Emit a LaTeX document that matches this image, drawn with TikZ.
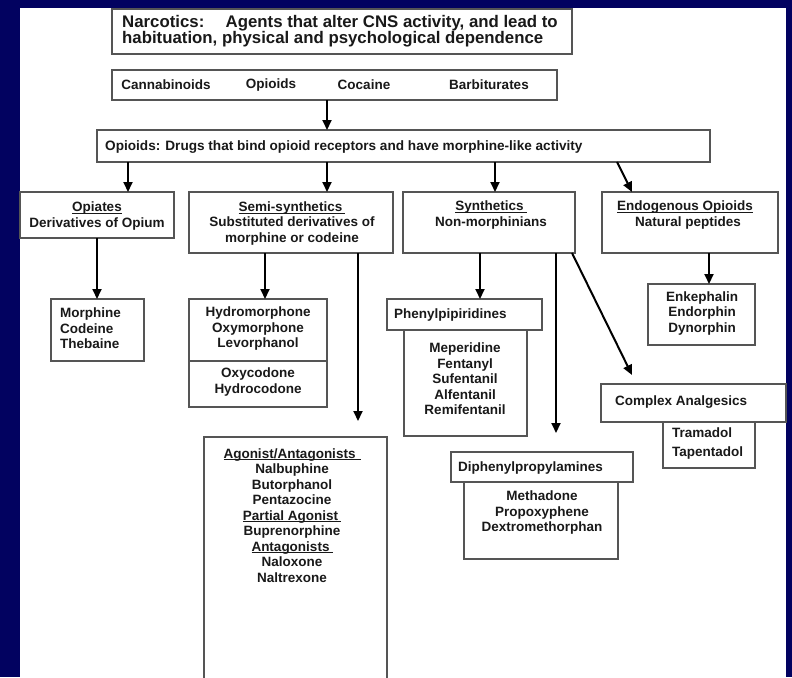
\documentclass[tikz,border=0pt]{standalone}
\usepackage{fontspec}
\setmainfont{Liberation Sans}
\usetikzlibrary{arrows.meta}
\definecolor{navy}{RGB}{2,2,96}
\definecolor{ink}{RGB}{25,25,25}
\definecolor{edge}{RGB}{85,85,85}
\newcommand\bx[5]{\node[box,anchor=north west,minimum width={(#4-#2)*1pt},minimum height={(#5-#3)*1pt}] (#1) at (#2,#3) {};}
\newcommand\myul[2][0pt]{\begingroup\setbox0\hbox{#2\hspace{#1}}\rlap{\rule[-2pt]{\wd0}{0.9pt}}\box0\endgroup}
\begin{document}
\begin{tikzpicture}[x=1pt,y=-1pt,
  box/.style={draw=edge,line width=1.3pt,fill=white,inner sep=0pt,outer sep=0pt},
  txt/.style={text=ink,font=\fontsize{13.5}{15.5}\selectfont\bfseries,inner sep=0pt,align=center},
  ttl/.style={text=ink,font=\fontsize{16.8}{16.5}\selectfont\bfseries,inner sep=0pt,align=left},
  arr/.style={draw=black,line width=2pt,-{Triangle[length=10pt,width=9pt]}}]
\fill[navy] (0,0) rectangle (792,677);
\fill[white] (20,8) rectangle (786,677);
\useasboundingbox (0,0) rectangle (792,677);
\clip (0,0) rectangle (792,677);

% level 0/1
\bx{title}{112}{9}{572}{54}
\node[ttl,anchor=west] (ttitle) at (122,31) {Narcotics:\hspace{0.9em} Agents that alter CNS activity, and lead to\\habituation, physical and psychological dependence};
\bx{cats}{112}{70}{557}{100}
\node[txt] (tcan) at (166,85) {Cannabinoids};
\node[txt] (topi) at (271,85) {Opioids};
\node[txt] (tcoc) at (364,85) {Cocaine};
\node[txt] (tbar) at (489,85) {Barbiturates};
\bx{opioids}{97}{130}{710}{162}
\node[txt,anchor=west,font=\fontsize{13.6}{15.5}\selectfont\bfseries] (topioids) at (105,147) {Opioids: Drugs that bind opioid receptors and have morphine-like activity};

% level 3
\bx{opiates}{20}{192}{174}{238}
\node[txt] (topiates) at (97,216) {\myul{Opiates}\\Derivatives of Opium};
\bx{semi}{189}{192}{393}{253}
\node[txt] (tsemi) at (292,223.5) {\myul[3pt]{Semi-synthetics}\\Substituted derivatives of\\morphine or codeine};
\bx{synth}{403}{192}{575}{253}
\node[txt] (tsynth) at (491,215) {\myul[3pt]{Synthetics}\\Non-morphinians};
\bx{endo}{602}{192}{778}{253}
\node[txt] (tendo) at (685,215) {\myul{Endogenous Opioids}\\\hspace{6pt}Natural peptides};

% level 4
\bx{morph}{51}{299}{144}{361}
\node[txt,align=left,anchor=west] (tmorph) at (60,328.5) {Morphine\\Codeine\\Thebaine};
\bx{hydro}{189}{299}{327}{407}
\draw[edge,line width=1.3pt] (hydro.west |- 0,361) -- (hydro.east |- 0,361);
\node[txt] (thydro) at (258,329) {Hydromorphone\\Oxymorphone\\Levorphanol};
\node[txt] (toxy) at (258,382) {Oxycodone\\Hydrocodone};
\bx{meper}{404}{330}{527}{436}
\bx{phenyl}{387}{299}{542}{330}
\node[txt,anchor=west] (tphenyl) at (394,315) {Phenylpipiridines};
\node[txt] (tmeper) at (465,379) {Meperidine\\Fentanyl\\Sufentanil\\Alfentanil\\Remifentanil};
\bx{enk}{648}{284}{755}{345}
\node[txt] (tenk) at (702,313.5) {Enkephalin\\Endorphin\\Dynorphin};
\bx{tram}{663}{421}{755}{468}
\bx{complex}{601}{384}{786}{422}
\node[txt,anchor=west] (tcomplex) at (615,402.5) {Complex Analgesics};
\node[txt,align=left,anchor=west,font=\fontsize{13.5}{18.5}\selectfont\bfseries] (ttram) at (672,443.5) {Tramadol\\Tapentadol};
\bx{meth}{464}{482}{618}{559}
\bx{diph}{451}{452}{633}{482}
\node[txt,anchor=west] (tdiph) at (458,468) {Diphenylpropylamines};
\node[txt] (tmeth) at (542,513) {Methadone\\Propoxyphene\\Dextromethorphan};
\bx{agon}{204}{437}{387}{700}
\node[txt] (tagon) at (292,515.5) {\myul[5pt]{Agonist/Antagonists}\\Nalbuphine\\Butorphanol\\Pentazocine\\\myul[3pt]{Partial Agonist}\\Buprenorphine\\\myul[3pt]{Antagonists}\\Naloxone\\Naltrexone};

% connectors
\draw[arr] (cats.south -| 327,0) -- (opioids.north -| 327,0);
\draw[arr] (opioids.south -| 128,0) -- (opiates.north -| 128,0);
\draw[arr] (opioids.south -| 327,0) -- (semi.north -| 327,0);
\draw[arr] (opioids.south -| 495,0) -- (synth.north -| 495,0);
\draw[arr] (opioids.south -| 617,0) -- (endo.north -| 632,0);
\draw[arr] (opiates.south -| 97,0) -- (morph.north -| 97,0);
\draw[arr] (semi.south -| 265,0) -- (hydro.north -| 265,0);
\draw[arr,shorten >=16pt] (semi.south -| 358,0) -- (agon.north -| 358,0);
\draw[arr] (synth.south -| 480,0) -- (phenyl.north -| 480,0);
\draw[arr,shorten >=19pt] (synth.south -| 556,0) -- (diph.north -| 556,0);
\coordinate (cxtip) at (632,375);
\draw[arr] (synth.south -| 572,0) -- (cxtip);
\draw[arr] (endo.south -| 709,0) -- (enk.north -| 709,0);
\end{tikzpicture}
\end{document}
